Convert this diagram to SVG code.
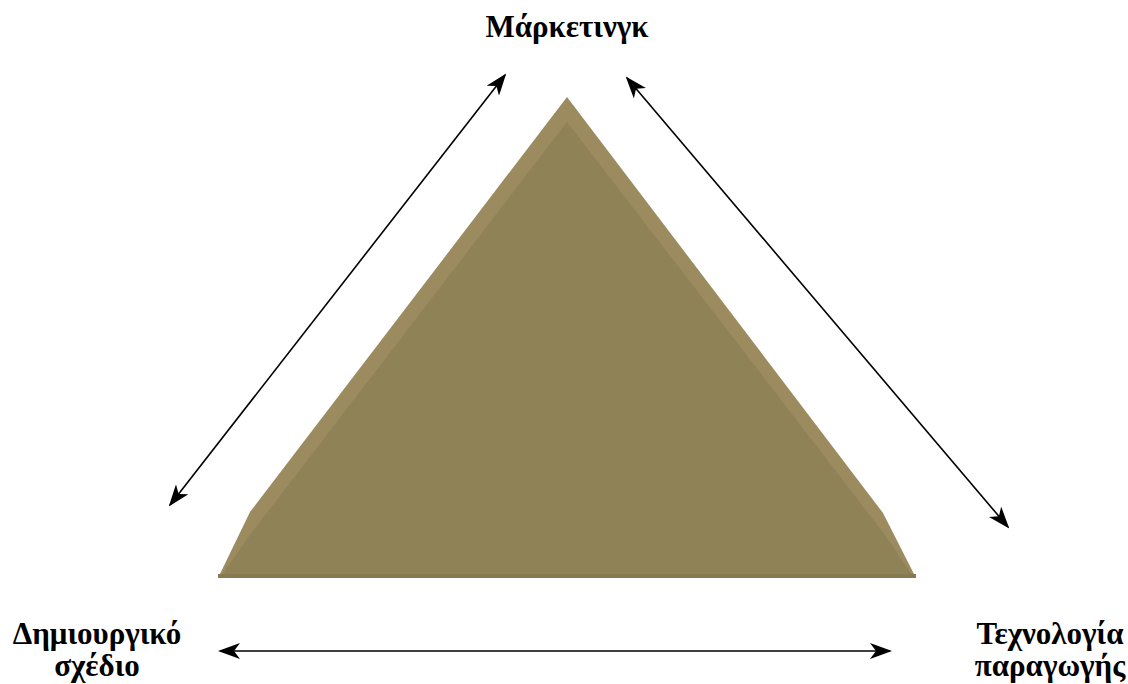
<svg xmlns="http://www.w3.org/2000/svg" width="1128" height="684" viewBox="0 0 1128 684">
<style>
.lbl{font-family:"Liberation Serif","Times New Roman",serif;font-weight:bold;font-size:31px;fill:#000;text-anchor:middle}
.conn{stroke:#000;stroke-width:1.6;fill:none;marker-start:url(#ah);marker-end:url(#ah)}
</style>
<defs>
<marker id="ah" viewBox="0 0 22 16" refX="20" refY="8" markerWidth="22" markerHeight="16" markerUnits="userSpaceOnUse" orient="auto-start-reverse">
<path d="M0,0 L22,8 L0,16 L6,8 Z" fill="#000"/>
</marker>
</defs>
<rect width="1128" height="684" fill="#fff"/>
<g id="pyramid">
<polygon points="567,97 250,512 218,578 916,578 883,513" fill="#9b8b5f"/>
<polygon points="567,122 250,535 222,575 912,575 885,535" fill="#8f8256"/>
<rect x="218" y="574" width="698" height="4" fill="#877a51"/>
</g>
<g id="connectors">
<line class="conn" x1="505" y1="75" x2="170" y2="505"/>
<line class="conn" x1="627" y1="78" x2="1008" y2="527"/>
<line class="conn" x1="220" y1="651" x2="890" y2="651"/>
</g>
<g id="node-marketing"><text class="lbl" x="567" y="37">Μάρκετινγκ</text></g>
<g id="node-design"><text class="lbl" x="97" y="644">Δημιουργικό</text><text class="lbl" x="97" y="676">σχέδιο</text></g>
<g id="node-tech"><text class="lbl" x="1050" y="644">Τεχνολογία</text><text class="lbl" x="1050" y="676">παραγωγής</text></g>
</svg>
